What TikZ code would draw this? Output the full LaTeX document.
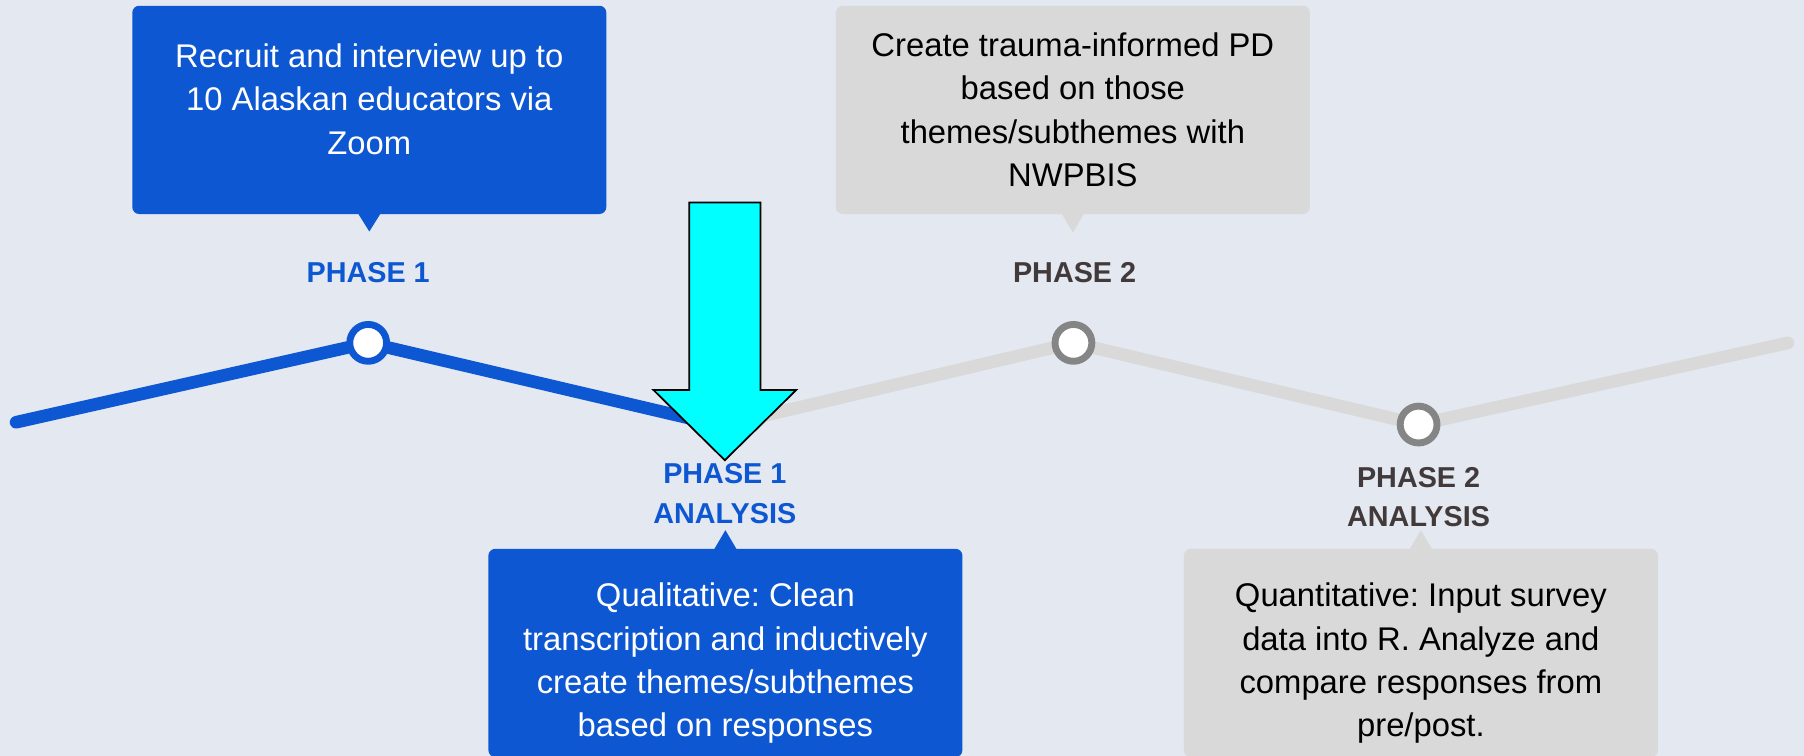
\documentclass[tikz,border=0pt]{standalone}
\usepackage{fontspec}
\setmainfont{Liberation Sans}
\frenchspacing
\usetikzlibrary{backgrounds}
\definecolor{slidebg}{RGB}{227,232,241}
\definecolor{phaseblue}{RGB}{14,87,210}
\definecolor{phasegrey}{RGB}{217,217,217}
\definecolor{ringgrey}{RGB}{133,133,133}
\definecolor{labeldark}{RGB}{66,58,58}
\definecolor{arrowcyan}{RGB}{0,255,255}
\tikzset{
  notebox/.style={rounded corners=6pt,minimum width=412pt,minimum height=181pt,inner sep=0pt,align=center,font=\fontsize{28.5}{37.7}\selectfont},
  milestone/.style={draw,shape=circle,fill=white,line width=6pt,minimum size=32pt,inner sep=0pt},
  phaselabel/.style={align=center,inner sep=0pt,font=\fontsize{25}{34}\selectfont\bfseries},
  trackline/.style={line width=11pt,line cap=round},
}
\begin{document}
\begin{tikzpicture}[x=1pt,y=-1pt]
\useasboundingbox (0,0) rectangle (1568,657);
\coordinate (s) at (14,367);
\coordinate (p1a) at (627,370);
\coordinate (e) at (1554,298);
\node [milestone,draw=phaseblue,name=p1] at (320,298){};
\node [milestone,draw=ringgrey,name=p2] at (933,298){};
\node [milestone,draw=ringgrey,name=p2a] at (1233,369){};
\begin{scope}[on background layer]
\fill[slidebg] (0,0) rectangle (1568,657);
\draw[trackline,phasegrey] (p1a)--(p2)--(p2a)--(e);
\draw[trackline,phaseblue] (s)--(p1)--(p1a);
\end{scope}
\node [phaselabel,text=phaseblue,name=l1] at (320,237){PHASE 1};
\node [phaselabel,text=phaseblue,name=l1a] at (630,429){PHASE 1\\ANALYSIS};
\node [phaselabel,text=labeldark,name=l2] at (934,237){PHASE 2};
\node [phaselabel,text=labeldark,name=l2a] at (1233,432){PHASE 2\\ANALYSIS};
\node [notebox,fill=phaseblue,text=white,text depth=19pt,name=b1] at (321,95.5){Recruit and interview up to\\10 Alaskan educators via\\Zoom};
\node [notebox,fill=phasegrey,text=black,name=g1] at (932.5,95.5){Create trauma-informed PD\\based on those\\themes/subthemes with\\NWPBIS};
\node [notebox,fill=phaseblue,text=white,text height=152pt,name=b2] at (630.5,567.5){Qualitative: Clean\\transcription and inductively\\create themes/subthemes\\based on responses};
\node [notebox,fill=phasegrey,text=black,text height=152pt,name=g2] at (1235,567.5){Quantitative: Input survey\\data into R. Analyze and\\compare responses from\\pre/post.};
\fill[phaseblue] ([xshift=-10pt,yshift=1pt]b1.south)--([xshift=10pt,yshift=1pt]b1.south)--([yshift=-15pt]b1.south)--cycle;
\fill[phasegrey] ([xshift=-10pt,yshift=1pt]g1.south)--([xshift=10pt,yshift=1pt]g1.south)--([yshift=-16pt]g1.south)--cycle;
\fill[phaseblue] ([xshift=-10pt,yshift=-1pt]b2.north)--([xshift=10pt,yshift=-1pt]b2.north)--([yshift=16pt]b2.north)--cycle;
\fill[phasegrey] ([xshift=-10pt,yshift=-1pt]g2.north)--([xshift=10pt,yshift=-1pt]g2.north)--([yshift=16pt]g2.north)--cycle;
\draw[fill=arrowcyan,line width=1.5pt] (599,176)--(661,176)--(661,339)--(692,339)--(630,400)--(568,339)--(599,339)--cycle;
\end{tikzpicture}
\end{document}
